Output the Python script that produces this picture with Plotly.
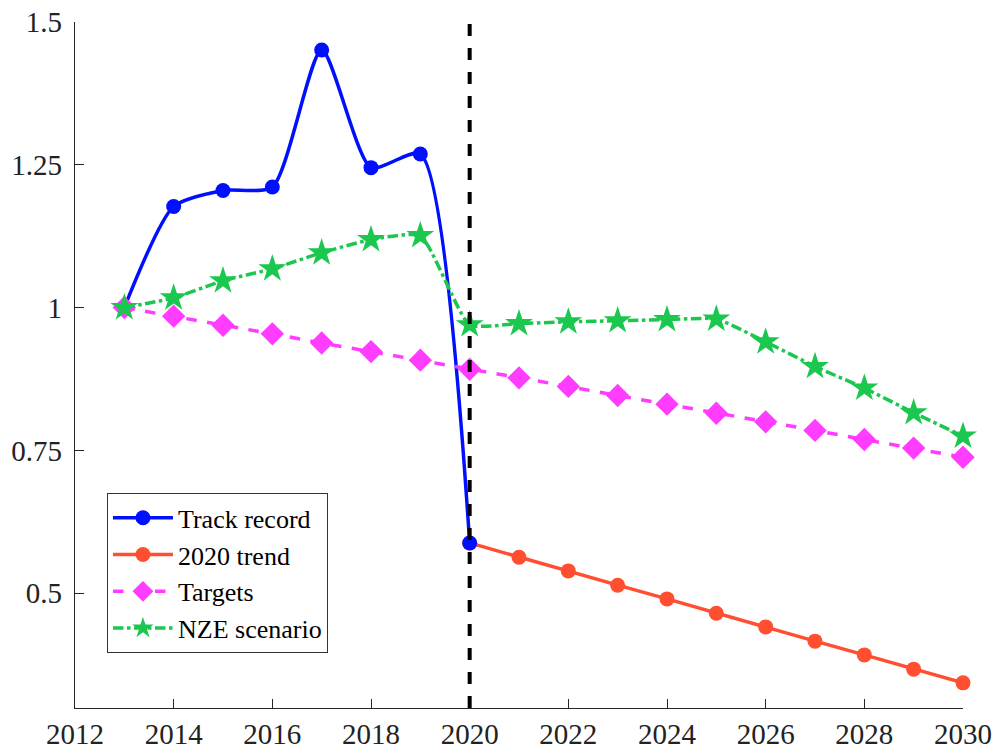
import plotly.graph_objects as go

years_track = [2013, 2014, 2015, 2016, 2017, 2018, 2019, 2020]
track_record = [1.0, 1.177, 1.205, 1.211, 1.451, 1.245, 1.269, 0.588]

years_trend = list(range(2020, 2031))
trend_2020 = [0.588, 0.563, 0.539, 0.514, 0.490, 0.465, 0.441, 0.416, 0.392, 0.367, 0.343]

years_all = list(range(2013, 2031))
targets = [1.0, 0.985, 0.969, 0.954, 0.938, 0.923, 0.908, 0.892, 0.877, 0.862,
           0.846, 0.831, 0.815, 0.800, 0.785, 0.769, 0.754, 0.738]
nze = [1.0, 1.017, 1.047, 1.068, 1.096, 1.119, 1.126, 0.970, 0.972, 0.975,
       0.977, 0.979, 0.980, 0.940, 0.897, 0.859, 0.816, 0.775]

x_ticks = list(range(2012, 2031, 2))
y_ticks = [0.5, 0.75, 1.0, 1.25, 1.5]
y_tick_labels = ["0.5", "0.75", "1", "1.25", "1.5"]

BLUE = "#0010FF"
ORANGE = "#FF4F30"
MAGENTA = "#FF3CFF"
GREEN = "#1CC74F"
FONT = "Liberation Serif"

fig = go.Figure()

fig.add_trace(go.Scatter(
    x=years_trend, y=trend_2020, name="2020 trend", legendrank=2,
    mode="lines+markers", cliponaxis=False,
    line=dict(color=ORANGE, width=3.5),
    marker=dict(symbol="circle", size=15, color=ORANGE),
))
fig.add_trace(go.Scatter(
    x=years_track, y=track_record, name="Track record", legendrank=1,
    mode="lines+markers", cliponaxis=False,
    line=dict(color=BLUE, width=3.5, shape="spline", smoothing=0.65),
    marker=dict(symbol="circle", size=15, color=BLUE),
))
fig.add_trace(go.Scatter(
    x=years_all, y=targets, name="Targets", legendrank=3,
    mode="lines+markers", cliponaxis=False,
    line=dict(color=MAGENTA, width=3.5, dash="dash"),
    marker=dict(symbol="diamond", size=18, color=MAGENTA),
))
fig.add_trace(go.Scatter(
    x=years_all, y=nze, name="NZE scenario", legendrank=4,
    mode="lines+markers", cliponaxis=False,
    line=dict(color=GREEN, width=3.5, dash="dashdot", shape="spline", smoothing=0.5),
    marker=dict(symbol="star", size=21, color=GREEN),
))

fig.add_shape(type="line", x0=2020, x1=2020, xref="x", y0=0, y1=1, yref="paper",
              line=dict(color="black", width=4, dash="dash"), layer="above")

fig.update_layout(
    width=997, height=751,
    margin=dict(l=75, r=34, t=22, b=43),
    paper_bgcolor="white", plot_bgcolor="white",
    font=dict(family=FONT, size=29, color="#222222"),
    showlegend=True,
    legend=dict(
        x=0.036, y=0.313, xanchor="left", yanchor="top",
        bgcolor="white", bordercolor="#333333", borderwidth=1,
        font=dict(family=FONT, size=26, color="black"),
        tracegroupgap=0, itemwidth=60,
    ),
    xaxis=dict(
        range=[2012, 2030], tickvals=x_ticks, ticktext=[str(v) for v in x_ticks],
        showgrid=False, zeroline=False, showline=True, linecolor="#262626", linewidth=1.3,
        ticks="inside", ticklen=9, tickcolor="#262626", tickwidth=1.3,
        mirror=False, automargin=False,
    ),
    yaxis=dict(
        range=[0.299, 1.5], tickvals=y_ticks, ticktext=y_tick_labels,
        showgrid=False, zeroline=False, showline=True, linecolor="#262626", linewidth=1.3,
        ticks="inside", ticklen=9, tickcolor="#262626", tickwidth=1.3,
        mirror=False, automargin=False, ticklabelstandoff=6,
    ),
)

fig.write_html(
    "out.html",
    config={"displayModeBar": False},
    post_script="document.body.style.margin='0';document.body.style.overflow='hidden';",
)
